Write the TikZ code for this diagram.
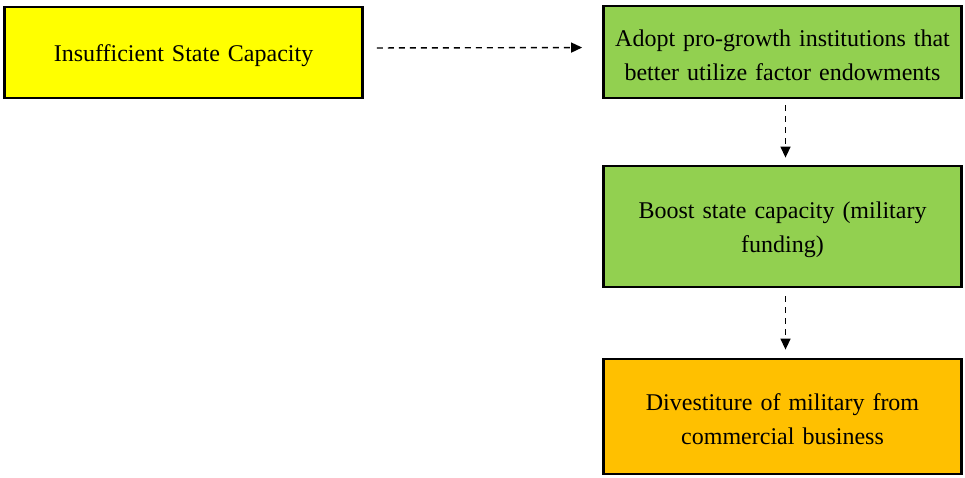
\documentclass[tikz,border=0pt]{standalone}
\usepackage{fontspec}
\setmainfont{Liberation Serif}
\usetikzlibrary{arrows.meta}
\definecolor{boxyellow}{HTML}{FFFF00}
\definecolor{boxgreen}{HTML}{92D050}
\definecolor{boxorange}{HTML}{FFC000}
\begin{document}
\begin{tikzpicture}[x=1pt,y=1pt,
  stage/.style={draw=black, line width=2.8pt, rectangle, align=center,
    minimum width=358pt, text width=350pt,
    font=\fontsize{24}{34}\selectfont,
    execute at begin node={\rule{0pt}{23pt}}},
  flow/.style={line width=1.4pt, dash pattern=on 6pt off 5pt,
    -{Triangle[length=11pt,width=10pt]}}
]
\useasboundingbox (0,0) rectangle (965,-477);
\node[stage, fill=boxyellow, minimum height=91pt] (cap) at (183.5,-52.5) {Insufficient State Capacity};
\node[stage, fill=boxgreen, minimum height=92pt] (adopt) at (782.5,-52) {Adopt pro-growth institutions that\\better utilize factor endowments};
\node[stage, fill=boxgreen, minimum height=121pt] (boost) at (782.5,-226.5) {Boost state capacity (military\\funding)};
\node[stage, fill=boxorange, minimum height=115pt] (divest) at (782.5,-416.5) {Divestiture of military from\\commercial business};
\draw[flow, shorten <=13pt, shorten >=20pt] ([yshift=4.5pt]cap.east) -- ([yshift=4.5pt]adopt.west);
\draw[flow, shorten <=6pt, shorten >=7pt] ([xshift=3pt]adopt.south) -- ([xshift=3pt]boost.north);
\draw[flow, shorten <=8pt, shorten >=8pt] ([xshift=3pt]boost.south) -- ([xshift=3pt]divest.north);
\end{tikzpicture}
\end{document}
